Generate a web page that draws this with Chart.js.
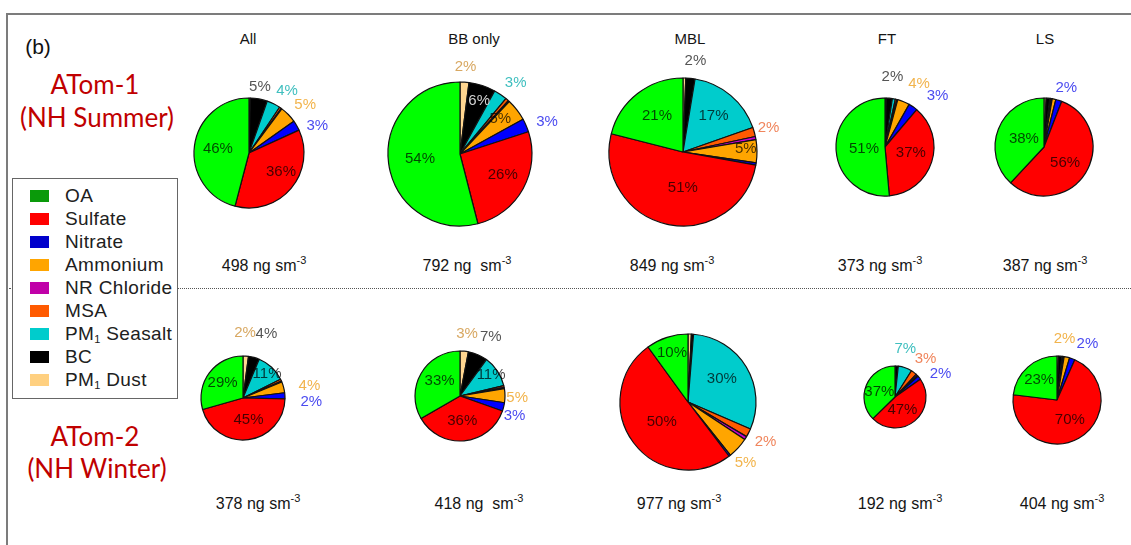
<!DOCTYPE html>
<html>
<head>
<meta charset="utf-8">
<script src="https://cdn.jsdelivr.net/npm/chart.js@4.4.1/dist/chart.umd.min.js"></script>
<style>
  html, body { margin: 0; padding: 0; background: #fff; }
  #fig { position: relative; width: 1131px; height: 545px; overflow: hidden;
         font-family: "Liberation Sans", Arial, sans-serif; color: #151515; }
  .t { position: absolute; transform: translate(-50%, -50%); white-space: pre; line-height: 1; }
  .frameTop { position: absolute; left: 7px; top: 13px; width: 1124px; height: 0; border-top: 2px solid #7c7c7c; }
  .frameLeft { position: absolute; left: 6px; top: 13px; width: 0; height: 532px; border-left: 2px solid #7c7c7c; }
  .sep { position: absolute; left: 9px; top: 288px; width: 1122px; height: 0; border-top: 1px dotted #555; }
  .campaign { font-family: Lato, "Open Sans", sans-serif; color: #c00000; font-size: 26px; }
  .group { font-size: 15px; }
  .mass { font-size: 16px; }
  .mass sup { font-size: 11px; vertical-align: 7px; line-height: 0; }
  #legend { position: absolute; left: 12px; top: 178px; width: 164px; height: 219px;
            border: 1.5px solid #666; background: #fff; z-index: 2; }
  .li { position: absolute; left: 0; height: 23px; width: 164px; }
  .sw { position: absolute; left: 17px; top: 5px; width: 19px; height: 12px; }
  .lt { position: absolute; left: 52px; top: 0px; font-size: 19px; letter-spacing: 0.35px; line-height: 21px;
        white-space: nowrap; color: #202020; }
  .lt sub { font-size: 11px; vertical-align: -3px; line-height: 0; }
  canvas.pie { position: absolute; }
</style>
</head>
<body>
<div id="fig">
  <div class="frameTop"></div>
  <div class="frameLeft"></div>
  <div class="sep"></div>
  <div class="t" style="left:38px; top:46px; font-size:21px; color:#111;">(b)</div>
  <div id="legend"></div>
</div>
<script>
// ---- data ----------------------------------------------------------------
const groups = ['All', 'BB only', 'MBL', 'FT', 'LS'];
const campaignNames = ['ATom-1', 'ATom-2'];
const seasons = ['(NH Summer)', '(NH Winter)'];
const massAtom1 = [498, 792, 849, 373, 387];   // ng sm-3
const massAtom2 = [378, 418, 977, 192, 404];   // ng sm-3
const massUnit = ['ng sm', 'ng  sm', 'ng sm', 'ng sm', 'ng sm'];

// Percent of total mass; ATom-1 groups first, then ATom-2 groups
const oa       = [46,  54,  21,  51.3, 38,  29.4, 33.3, 10,   37.3, 23];
const sulfate  = [36,  26,  51,  37.3, 56,  45.3, 36.3, 50.3, 47.3, 70];
const nitrate  = [3,   3,   0.5, 3,    2,   2.3,  3,    0.4,  2,    2];
const ammonium = [5,   5,   5,   4,    1.2, 4.2,  5,    5,    0.6,  2];
const chloride = [0.2, 0.3, 0.7, 0.3,  0.2, 0.4,  0.5,  0.8,  0.8,  0.2];
const msa      = [0.6, 0.7, 2,   0.5,  0.3, 0.8,  0.6,  2,    3,    0.3];
const seasalt  = [4,   3,   17,  1,    0.3, 11.3, 11.3, 30.2, 7.2,  0.3];
const bc       = [5,   6,   2,   2,    1.2, 4.2,  7,    0.5,  1.4,  1.2];
const dust     = [0.4, 2,   0.6, 0.4,  0.7, 2.1,  3,    0.8,  0.3,  0.6];

// ---- styling -------------------------------------------------------------
const series = { oa, sulfate, nitrate, ammonium, chloride, msa, seasalt, bc, dust };
// slices run clockwise from 12 o'clock in this order
const drawOrder = ['dust', 'bc', 'seasalt', 'msa', 'chloride', 'ammonium', 'nitrate', 'sulfate', 'oa'];
const sliceColor = { oa: '#00ff00', sulfate: '#ff0000', nitrate: '#0000ff', ammonium: '#ffa500',
  chloride: '#cc00cc', msa: '#ff5a00', seasalt: '#00cccc', bc: '#000000', dust: '#ffd690' };
const outerLabelColor = { bc: '#555555', seasalt: '#3fbfbf', ammonium: '#f2b44c', nitrate: '#4b4bf0',
  dust: '#d8a862', msa: '#f0855c' };
const legendEntries = [
  ['OA', '#0a9a0a'], ['Sulfate', '#ff0000'], ['Nitrate', '#0000cc'], ['Ammonium', '#ffa500'],
  ['NR Chloride', '#c000a8'], ['MSA', '#ff5a00'], ['PM<sub>1</sub> Seasalt', '#00cccc'],
  ['BC', '#000000'], ['PM<sub>1</sub> Dust', '#ffd080']
];

// pie geometry (centre x, centre y, radius) for the two rows
const pieGeom = [
  [249, 153, 55], [460, 154, 72], [683, 152, 74], [885, 147, 49], [1044, 147, 49],
  [243, 398, 42], [460, 396, 45], [688, 402, 68], [895, 397, 31], [1057, 400, 44]
];
// labelled slices: [species, radial factor, angle nudge in degrees]
const labelLayout = [
  [['oa', 0.57, 0], ['sulfate', 0.68, -9], ['bc', 1.21, -1], ['seasalt', 1.32, 5], ['ammonium', 1.34, 4], ['nitrate', 1.34, 8]],
  [['dust', 1.21, 0], ['bc', 0.78, 2], ['seasalt', 1.25, 4], ['ammonium', 0.74, -3], ['nitrate', 1.29, 3], ['oa', 0.56, 0], ['sulfate', 0.66, -3]],
  [['bc', 1.24, 2], ['oa', 0.6, 2], ['seasalt', 0.64, 0], ['msa', 1.2, 0], ['ammonium', 0.85, -2], ['sulfate', 0.49, -12]],
  [['bc', 1.43, 1], ['ammonium', 1.46, 6], ['nitrate', 1.49, 11], ['oa', 0.43, -3], ['sulfate', 0.54, -5]],
  [['nitrate', 1.29, 3], ['oa', 0.44, 0], ['sulfate', 0.54, 5]],
  [['dust', 1.55, -2], ['bc', 1.62, 5], ['seasalt', 0.81, 2], ['ammonium', 1.61, 4], ['nitrate', 1.63, 6], ['oa', 0.61, 0], ['sulfate', 0.53, -7]],
  [['dust', 1.4, 1], ['bc', 1.49, 4], ['seasalt', 0.83, 0], ['ammonium', 1.27, 2], ['nitrate', 1.29, 6], ['oa', 0.56, 6], ['sulfate', 0.55, 0]],
  [['oa', 0.76, 0], ['seasalt', 0.6, -3], ['sulfate', 0.48, 0], ['msa', 1.28, 0], ['ammonium', 1.23, 4]],
  [['seasalt', 1.58, -7], ['msa', 1.58, 1], ['nitrate', 1.64, 12], ['oa', 0.53, -5], ['sulfate', 0.47, 9]],
  [['ammonium', 1.4, -6], ['nitrate', 1.46, 8], ['oa', 0.61, 0], ['sulfate', 0.54, -3]]
];
const groupTitleX = [248, 474, 690, 887, 1045];
const massX = [[264, 467, 672, 880, 1045], [258, 479, 679, 900, 1062]];
const massY = [266, 504];

const fig = document.getElementById('fig');
function addText(html, x, y, cls, style) {
  const d = document.createElement('div');
  d.className = 't ' + (cls || '');
  d.style.left = x + 'px';
  d.style.top = y + 'px';
  if (style) d.style.cssText += style;
  d.innerHTML = html;
  fig.appendChild(d);
  return d;
}

// campaign labels on the left
addText(campaignNames[0], 95, 84, 'campaign');
addText(seasons[0], 97, 117, 'campaign');
addText(campaignNames[1], 95, 436, 'campaign');
addText(seasons[1], 97, 468, 'campaign');

// group titles and total mass labels
groups.forEach((g, i) => addText(g, groupTitleX[i], 38, 'group'));
[massAtom1, massAtom2].forEach((row, r) => {
  row.forEach((m, i) => addText(m + ' ' + massUnit[i] + '<sup>-3</sup>', massX[r][i], massY[r], 'mass'));
});

// legend
const legend = document.getElementById('legend');
legendEntries.forEach(([name, color], i) => {
  const li = document.createElement('div');
  li.className = 'li';
  li.style.top = (6 + i * 23) + 'px';
  li.innerHTML = '<div class="sw" style="background:' + color + '"></div><div class="lt">' + name + '</div>';
  legend.appendChild(li);
});

// percentage labels, drawn from the arcs Chart.js laid out
function makeLabelPlugin(items) {
  return {
    id: 'pieLabels',
    afterDatasetsDraw(chart) {
      const meta = chart.getDatasetMeta(0);
      const values = chart.data.datasets[0].data;
      const ctx = chart.ctx;
      ctx.save();
      ctx.font = '15px "Liberation Sans", Arial, sans-serif';
      ctx.textAlign = 'center';
      ctx.textBaseline = 'middle';
      items.forEach(([key, f, dA]) => {
        const i = drawOrder.indexOf(key);
        const p = meta.data[i].getProps(['x', 'y', 'startAngle', 'endAngle', 'outerRadius'], true);
        const a = (p.startAngle + p.endAngle) / 2 + dA * Math.PI / 180;
        const px = p.x + Math.cos(a) * p.outerRadius * f;
        const py = p.y + Math.sin(a) * p.outerRadius * f;
        if (f > 1) ctx.fillStyle = outerLabelColor[key];
        else ctx.fillStyle = key === 'bc' ? '#d2d2d2' : 'rgba(0,0,0,0.72)';
        ctx.fillText(Math.round(values[i]) + '%', px, py);
      });
      ctx.restore();
    }
  };
}

pieGeom.forEach(([cx, cy, r], k) => {
  const W = 2 * r + 170, H = 2 * r + 120;
  const cv = document.createElement('canvas');
  cv.className = 'pie';
  cv.width = W; cv.height = H;
  cv.style.width = W + 'px'; cv.style.height = H + 'px';
  cv.style.left = (cx - W / 2) + 'px';
  cv.style.top = (cy - H / 2) + 'px';
  fig.appendChild(cv);
  new Chart(cv, {
    type: 'pie',
    data: {
      labels: drawOrder,
      datasets: [{
        data: drawOrder.map(key => series[key][k]),
        backgroundColor: drawOrder.map(key => sliceColor[key]),
        borderColor: '#111',
        borderWidth: 1.2
      }]
    },
    options: {
      responsive: false,
      animation: false,
      events: [],
      radius: r,
      layout: { padding: 0 },
      plugins: { legend: { display: false }, tooltip: { enabled: false } }
    },
    plugins: [makeLabelPlugin(labelLayout[k])]
  });
});
</script>
</body>
</html>
